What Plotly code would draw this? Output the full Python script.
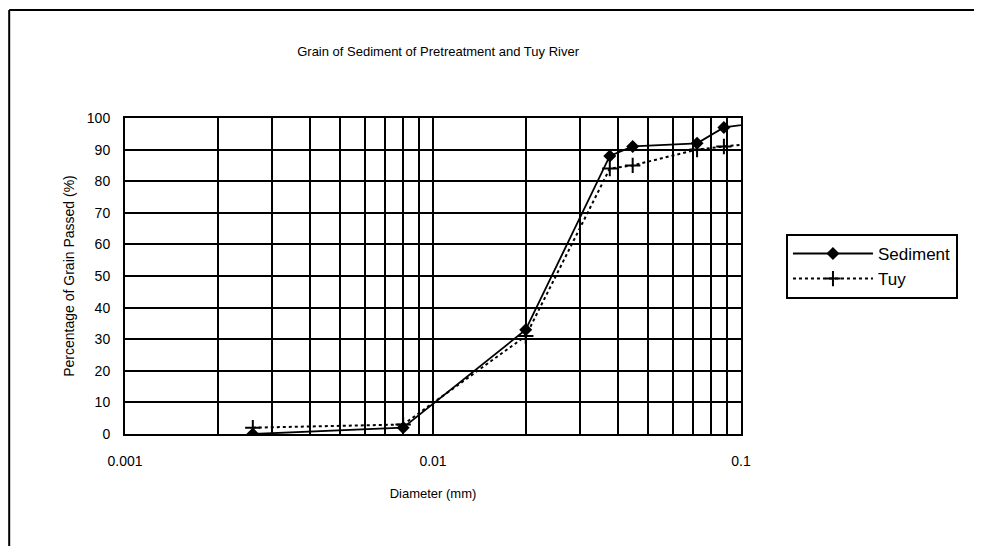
import plotly.graph_objects as go

# Grain size data
diameter = [0.0026, 0.008, 0.02, 0.0375, 0.0445, 0.072, 0.088, 0.15]
sediment = [0, 2, 33, 88, 91, 92, 97, 100]
tuy = [2, 3, 31, 84, 85, 90, 91, 93]

x_ticks = [m * 10 ** e for e in (-3, -2) for m in range(1, 10)] + [0.1]
x_labels = ["0.001"] + [""] * 8 + ["0.01"] + [""] * 8 + ["0.1"]

font = "Liberation Sans, Arial, sans-serif"

fig = go.Figure()

fig.add_trace(go.Scatter(
    x=diameter, y=sediment, name="Sediment", mode="lines+markers",
    line=dict(color="black", width=1.8),
    marker=dict(symbol="diamond", size=10, color="black"),
))

fig.add_trace(go.Scatter(
    x=diameter, y=tuy, name="Tuy", mode="lines+markers",
    line=dict(color="black", width=2, dash="dot"),
    marker=dict(symbol="cross-thin", size=11, line=dict(color="black", width=2)),
))

fig.update_layout(
    width=982, height=546,
    margin=dict(l=117, r=249, t=110, b=120),
    paper_bgcolor="white", plot_bgcolor="white",
    font=dict(family=font, size=13, color="black"),
    title=dict(text="Grain of Sediment of Pretreatment and Tuy River",
               x=0.438, xanchor="center", y=0.921, yanchor="middle",
               font=dict(size=13)),
    legend=dict(x=1.073, y=0.633, xanchor="left", yanchor="top",
                bordercolor="black", borderwidth=2, bgcolor="white",
                font=dict(size=17), itemwidth=80, tracegroupgap=6),
    shapes=[
        dict(type="line", xref="paper", yref="paper", x0=-0.188, x1=-0.188, y0=-0.4, y1=1.342,
             line=dict(color="black", width=2)),
        dict(type="line", xref="paper", yref="paper", x0=-0.188, x1=1.391, y0=1.342, y1=1.342,
             line=dict(color="black", width=2)),
        dict(type="line", xref="paper", yref="paper", x0=1.391, x1=1.391, y0=-0.4, y1=1.342,
             line=dict(color="#bbbbbb", width=1)),
    ],
)

fig.update_xaxes(
    type="log", range=[-3, -1],
    tickvals=x_ticks, ticktext=x_labels, tickfont=dict(size=14),
    showgrid=True, gridcolor="black", gridwidth=2,
    showline=True, linecolor="black", linewidth=2, mirror=True,
    ticks="", zeroline=False, ticklabelstandoff=13,
    title=dict(text="Diameter (mm)", standoff=21, font=dict(size=13)),
)

fig.update_yaxes(
    range=[0, 100], dtick=10, tickfont=dict(size=14),
    showgrid=True, gridcolor="black", gridwidth=1.5,
    showline=True, linecolor="black", linewidth=2, mirror=True,
    ticks="", zeroline=False, ticklabelstandoff=10,
    title=dict(text="Percentage of Grain Passed (%)", standoff=9, font=dict(size=14)),
)

fig.write_html("out.html")
